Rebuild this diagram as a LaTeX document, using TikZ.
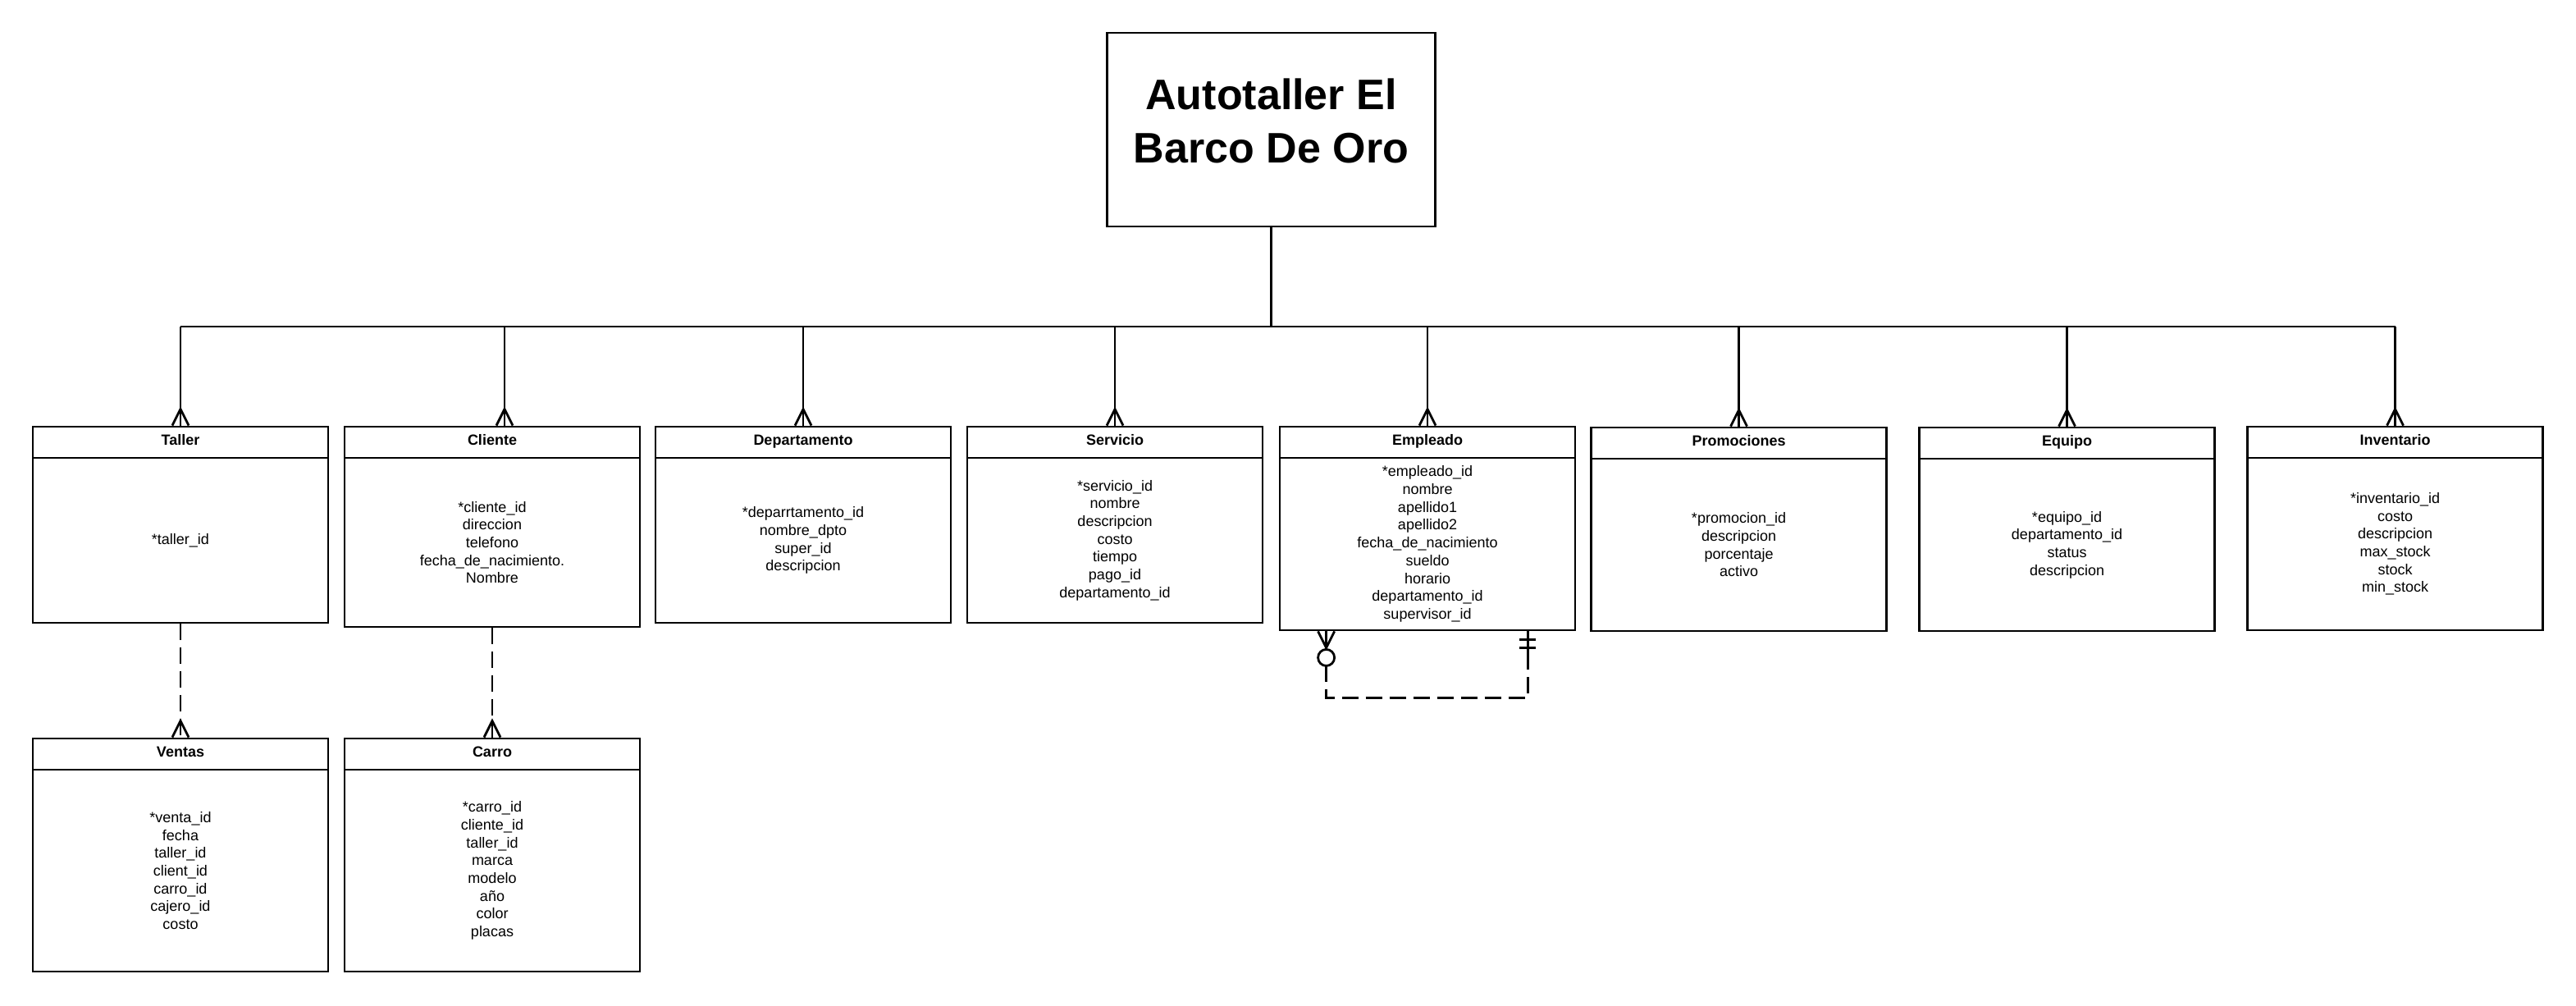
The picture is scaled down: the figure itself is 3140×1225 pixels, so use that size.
\documentclass[tikz,border=0pt]{standalone}
\usepackage{fontspec}
\setmainfont{Liberation Sans}
\usetikzlibrary{calc}

\begin{document}
\begin{tikzpicture}[x=1pt,y=1pt,yscale=-0.5,xscale=0.5,
    ent/.style={draw, line width=1.4pt, minimum width=180pt, inner sep=0pt, align=center, font=\fontsize{9}{10.85}\selectfont},
    hdr/.style={ent, minimum height=19pt, text height=6.2pt, text depth=2.8pt, font=\bfseries\fontsize{9}{10.85}\selectfont},
    rel/.style={line width=1.4pt},
    reldash/.style={rel, dash pattern=on 10pt off 4.5pt}]

    \useasboundingbox (0,0) rectangle (3140,1225);

    \draw (1549.5,158) node [draw, line width=1.4pt, minimum width=200pt, minimum height=118pt, align=center, text depth=11pt, font=\bfseries\fontsize{26}{32.5}\selectfont] (titulo) {Autotaller El\\Barco De Oro};

    \draw (220,539)    node [hdr] (taller) {Taller};
    \draw (220,658.5)  node [ent, minimum height=100.5pt] (tallerB) {*taller\_id};
    \draw (600,539)    node [hdr] (cliente) {Cliente};
    \draw (600,661)    node [ent, minimum height=103pt] (clienteB) {*cliente\_id\\direccion\\telefono\\fecha\_de\_nacimiento.\\Nombre};
    \draw (979,539)    node [hdr] (departamento) {Departamento};
    \draw (979,658.5)  node [ent, minimum height=100.5pt] (departamentoB) {*deparrtamento\_id\\nombre\_dpto\\super\_id\\descripcion};
    \draw (1359,539)   node [hdr] (servicio) {Servicio};
    \draw (1359,658.5) node [ent, minimum height=100.5pt] (servicioB) {*servicio\_id\\nombre\\descripcion\\costo\\tiempo\\pago\_id\\departamento\_id};
    \draw (1740,539)   node [hdr] (empleado) {Empleado};
    \draw (1740,663)   node [ent, minimum height=105pt] (empleadoB) {*empleado\_id\\nombre\\apellido1\\apellido2\\fecha\_de\_nacimiento\\sueldo\\horario\\departamento\_id\\supervisor\_id};
    \draw (2119.5,540) node [hdr] (promociones) {Promociones};
    \draw (2119.5,664) node [ent, minimum height=105pt] (promocionesB) {*promocion\_id\\descripcion\\porcentaje\\activo};
    \draw (2519.5,540) node [hdr] (equipo) {Equipo};
    \draw (2519.5,664) node [ent, minimum height=105pt] (equipoB) {*equipo\_id\\departamento\_id\\status\\descripcion};
    \draw (2919.5,539) node [hdr] (inventario) {Inventario};
    \draw (2919.5,663) node [ent, minimum height=105pt] (inventarioB) {*inventario\_id\\costo\\descripcion\\max\_stock\\stock\\min\_stock};
    \draw (220,919)    node [hdr] (ventas) {Ventas};
    \draw (220,1061)   node [ent, minimum height=123pt] (ventasB) {*venta\_id\\fecha\\taller\_id\\client\_id\\carro\_id\\cajero\_id\\costo};
    \draw (600,919)    node [hdr] (carro) {Carro};
    \draw (600,1061)   node [ent, minimum height=123pt] (carroB) {*carro\_id\\cliente\_id\\taller\_id\\marca\\modelo\\año\\color\\placas};

    \coordinate (bus) at (1549.5,398);
    \coordinate (clienteTop) at ($(cliente.north)+(15,0)$);
    \draw [rel] (titulo.south) -- (bus);
    \draw [rel] (bus -| taller.north) -- (bus -| inventario.north);
    \foreach \e in {taller,clienteTop,departamento,servicio,empleado,promociones,equipo,inventario,ventas,carro} {
        \draw [rel] ($(\e.north)+(-10,0)$) -- ($(\e.north)+(0,-20)$) -- ($(\e.north)+(10,0)$);
    }
    \foreach \e in {taller,clienteTop,departamento,servicio,empleado,promociones,equipo,inventario} {
        \draw [rel] (bus -| \e.north) -- (\e.north);
    }

    \draw [reldash] (tallerB.south) -- (ventas.north);
    \draw [reldash] (clienteB.south) -- (carro.north);

    \coordinate (selfA) at ($(empleadoB.south west)+(58,0)$);
    \coordinate (selfB) at ($(empleadoB.south east)+(-59,0)$);
    \draw [rel] (selfA) -- ++(0,22);
    \draw [rel] ($(selfA)+(-10,0)$) -- ($(selfA)+(0,20)$) -- ($(selfA)+(10,0)$);
    \draw [rel] ($(selfA)+(0,32)$) circle [radius=10];
    \draw [reldash] ($(selfA)+(0,42)$) |- ($(selfB)+(0,81)$) -- ($(selfB)+(0,27)$);
    \draw [rel] (selfB) -- ++(0,27);
    \draw [rel] ($(selfB)+(-10,10)$) -- ++(20,0);
    \draw [rel] ($(selfB)+(-10,20)$) -- ++(20,0);

\end{tikzpicture}
\end{document}
